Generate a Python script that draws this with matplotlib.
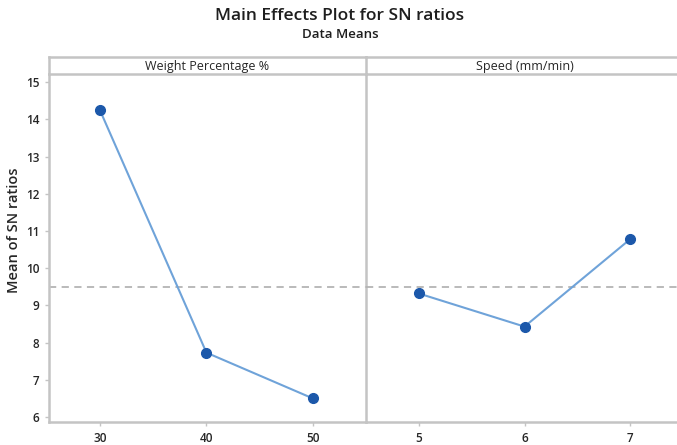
import matplotlib
matplotlib.use("Agg")
import matplotlib.pyplot as plt
import numpy as np

plt.rcParams['font.family'] = ['Open Sans', 'DejaVu Sans']

# Data
weight_levels = [30, 40, 50]
weight_sn = [14.24, 7.73, 6.50]
speed_levels = [5, 6, 7]
speed_sn = [9.32, 8.43, 10.78]
panel_titles = ["Weight Percentage %", "Speed (mm/min)"]
y_ticks = [6, 7, 8, 9, 10, 11, 12, 13, 14, 15]

overall_mean = np.mean(weight_sn + speed_sn)

W, H = 677, 445
fig = plt.figure(figsize=(W / 100, H / 100), dpi=100)

txt_col = "#262626"
ax_col = "#c4c4c4"
line_col = "#6fa3d9"
mark_col = "#1c58aa"

def fx(px):
    return px / W

def fy(py):
    return (H - py) / H

left1, right1 = 49, 366
right2 = 683
top_ax, bot_ax = 74, 422
strip_top = 57

ax1 = fig.add_axes([fx(left1), fy(bot_ax), fx(right1 - left1), fy(top_ax) - fy(bot_ax)])
ax2 = fig.add_axes([fx(right1), fy(bot_ax), fx(right2 - right1), fy(top_ax) - fy(bot_ax)])
s1 = fig.add_axes([fx(left1), fy(top_ax), fx(right1 - left1), fy(strip_top) - fy(top_ax)])
s2 = fig.add_axes([fx(right1), fy(top_ax), fx(right2 - right1), fy(strip_top) - fy(top_ax)])
ax2.patch.set_visible(False)
s2.patch.set_visible(False)

ylim = (5.866, 15.22)

for ax, lv, vals, xl in [(ax1, weight_levels, weight_sn, (25.2, 55.0)),
                          (ax2, speed_levels, speed_sn, (4.5, 7.5))]:
    ax.axhline(overall_mean, color="#b4b4b4", lw=1.3, ls=(0, (4, 3)), zorder=1)
    ax.plot(lv, vals, color=line_col, lw=1.5, zorder=2)
    ax.plot(lv, vals, ls="none", marker="o", ms=7, color=mark_col, zorder=3)
    ax.set_xlim(*xl)
    ax.set_ylim(*ylim)
    ax.set_xticks(lv)
    ax.set_xticklabels([str(v) for v in lv])
    for sp in ax.spines.values():
        sp.set_color(ax_col)
        sp.set_linewidth(1.8)
    ax.spines['top'].set_visible(False)
    ax.tick_params(axis='both', colors=ax_col, labelcolor=txt_col, labelsize=8.5,
                   length=3, width=1, pad=4)
    for lab in ax.get_xticklabels() + ax.get_yticklabels():
        lab.set_fontweight("semibold")

ax1.set_yticks(y_ticks)
ax1.set_yticklabels([str(v) for v in y_ticks], fontweight="semibold")
ax2.set_yticks([])
ax2.spines['left'].set_visible(False)
ax2.spines['right'].set_visible(False)

fig.text(fx(14), fy(230), "Mean of SN ratios", rotation=90, ha="center", va="center",
         fontsize=10.5, color=txt_col, fontweight="semibold")

for s, t in [(s1, panel_titles[0]), (s2, panel_titles[1])]:
    s.set_xticks([])
    s.set_yticks([])
    for sp in s.spines.values():
        sp.set_color(ax_col)
        sp.set_linewidth(1.8)
    s.text(0.5, 0.45, t, transform=s.transAxes, ha="center", va="center",
           fontsize=9, color=txt_col)
s2.spines['left'].set_visible(False)

fig.text(fx(340), fy(16), "Main Effects Plot for SN ratios", ha="center", va="center",
         fontsize=12.5, color="#1e1e1e", fontweight="semibold")
fig.text(fx(340), fy(34), "Data Means", ha="center", va="center",
         fontsize=9.5, color="#1e1e1e", fontweight="semibold")

fig.savefig("out.png", dpi=100)
